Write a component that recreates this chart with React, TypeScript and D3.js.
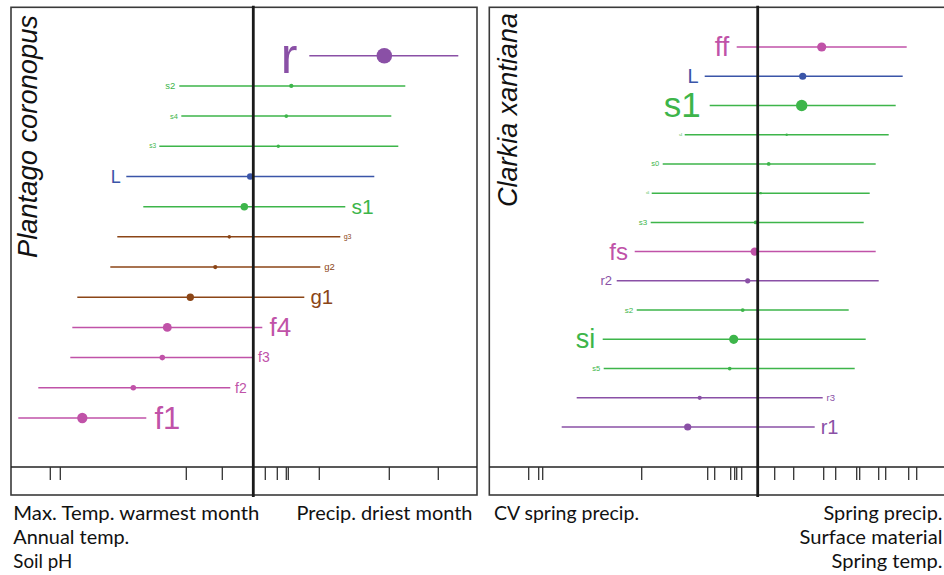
import React from 'react';
import * as d3 from 'd3';

// Plantago coronopus panel: effect estimate with lower / upper interval
const plantagoLabels = ['r', 's2', 's4', 's3', 'L', 's1', 'g3', 'g2', 'g1', 'f4', 'f3', 'f2', 'f1'];
const plantagoLow = [0.56, -0.74, -0.72, -0.94, -1.27, -1.1, -1.36, -1.43, -1.76, -1.81, -1.83, -2.15, -2.35];
const plantagoEst = [1.31, 0.38, 0.33, 0.25, -0.03, -0.09, -0.24, -0.38, -0.63, -0.86, -0.91, -1.2, -1.71];
const plantagoHigh = [2.05, 1.52, 1.38, 1.45, 1.21, 0.92, 0.87, 0.67, 0.51, 0.09, 0.0, -0.23, -1.07];
const plantagoWeight = [1.0, 0.19, 0.15, 0.13, 0.36, 0.42, 0.14, 0.19, 0.41, 0.52, 0.28, 0.28, 0.62];
const plantagoSide = ['left', 'left', 'left', 'left', 'left', 'right', 'right', 'right', 'right', 'right', 'right', 'right', 'right'];
const plantagoRug = [-2.03, -1.93, -0.67, -0.31, 0.12, 0.24, 0.33, 0.35, 0.66, 1.36, 1.85];

// Clarkia xantiana panel
const clarkiaLabels = ['ff', 'L', 's1', 's4', 's0', 's6', 's3', 'fs', 'r2', 's2', 'si', 's5', 'r3', 'r1'];
const clarkiaLow = [-0.21, -0.53, -0.48, -0.73, -0.95, -1.06, -1.07, -1.23, -1.41, -1.21, -1.55, -1.54, -1.81, -1.96];
const clarkiaEst = [0.64, 0.45, 0.44, 0.29, 0.11, 0.03, -0.02, -0.03, -0.1, -0.15, -0.24, -0.28, -0.58, -0.7];
const clarkiaHigh = [1.49, 1.45, 1.38, 1.31, 1.18, 1.12, 1.06, 1.18, 1.21, 0.91, 1.08, 0.97, 0.65, 0.57];
const clarkiaWeight = [0.54, 0.4, 0.7, 0.06, 0.15, 0.06, 0.16, 0.48, 0.26, 0.16, 0.54, 0.15, 0.19, 0.4];
const clarkiaSide = ['left', 'left', 'left', 'left', 'left', 'left', 'left', 'left', 'left', 'left', 'left', 'left', 'right', 'right'];
const clarkiaRug = [-2.29, -2.19, -2.15, -1.16, -0.5, -0.43, -0.27, -0.23, -0.21, -0.16, 0.17, 0.36, 0.66, 0.78, 0.99, 1.02, 1.21, 1.28, 1.51, 1.59];

const plantagoLeftAxis = ['Max. Temp. warmest month', 'Annual temp.', 'Soil pH'];
const plantagoRightAxis = ['Precip. driest month'];
const clarkiaLeftAxis = ['CV spring precip.'];
const clarkiaRightAxis = ['Spring precip.', 'Surface material', 'Spring temp.'];

const groupColor: Record<string, string> = {
  r: '#8a50a6',
  s: '#3db54a',
  L: '#3a55a8',
  g: '#8b4516',
  f: '#c052a8',
};

const radius = d3.scaleLinear().domain([0, 1]).range([0.8, 7.8]);
const fontSize = d3.scaleLinear().domain([0, 1]).range([0, 50]);

interface PanelProps {
  title: string;
  labels: string[];
  low: number[];
  est: number[];
  high: number[];
  weight: number[];
  side: string[];
  rug: number[];
  domain: [number, number];
  x0: number;
  x1: number;
  rowTop: number;
  rowBottom: number;
  titleX: number;
  titleY: number;
  titleLen: number;
}

const Panel: React.FC<PanelProps> = (p) => {
  const top = 7.3;
  const bottom = 495;
  const rugTop = 467;
  const x = d3.scaleLinear().domain(p.domain).range([p.x0, p.x1]);
  const y = d3.scalePoint<string>().domain(p.labels).range([p.rowTop, p.rowBottom]);

  return (
    <g>
      <rect x={p.x0} y={top} width={p.x1 - p.x0} height={bottom - top}
        fill="none" stroke="#3a3a3a" strokeWidth={1.6} />
      <line x1={p.x0} x2={p.x1} y1={rugTop} y2={rugTop} stroke="#222" strokeWidth={1.6} />
      {p.rug.map((v, i) => (
        <line key={i} x1={x(v)} x2={x(v)} y1={rugTop} y2={rugTop + 13} stroke="#333" strokeWidth={1.3} />
      ))}
      <text x={p.titleX} y={p.titleY} transform={`rotate(-90 ${p.titleX} ${p.titleY})`}
        fontFamily="'Liberation Sans', Arial, sans-serif" fontStyle="italic" fontSize={27.4} fill="#111"
        textLength={p.titleLen} lengthAdjust="spacingAndGlyphs">
        {p.title}
      </text>
      {p.labels.map((lab, i) => {
        const color = groupColor[lab[0]];
        const cy = y(lab) as number;
        const fs = fontSize(p.weight[i]);
        const gap = 2 + 0.2 * fs;
        const left = p.side[i] === 'left';
        return (
          <g key={lab + i}>
            <line x1={x(p.low[i])} x2={x(p.high[i])} y1={cy} y2={cy} stroke={color} strokeWidth={1.5} />
            <circle cx={x(p.est[i])} cy={cy} r={radius(p.weight[i])} fill={color} />
            <text x={left ? x(p.low[i]) - gap : x(p.high[i]) + gap} y={cy + 0.34 * fs}
              textAnchor={left ? 'end' : 'start'} fontSize={fs}
              fontFamily="'Liberation Sans', Arial, sans-serif" fill={color}>
              {lab}
            </text>
          </g>
        );
      })}
      <line x1={x(0)} x2={x(0)} y1={top - 1.5} y2={bottom + 2} stroke="#1a1a1a" strokeWidth={2.8} />
    </g>
  );
};

const axisFont = "Lato, 'Open Sans', sans-serif";

const App: React.FC = () => {
  const leftLens = [246, 116, 59];
  const clarkiaRightLens = [119, 143, 111];
  return (
    <svg width={944} height={575} viewBox="0 0 944 575"
      style={{ position: 'absolute', left: 0, top: 0, background: '#fff' }}>
      <Panel title="Plantago coronopus" labels={plantagoLabels} low={plantagoLow} est={plantagoEst}
        high={plantagoHigh} weight={plantagoWeight} side={plantagoSide} rug={plantagoRug}
        domain={[-2.423, 2.237]} x0={11} x1={477} rowTop={55.7} rowBottom={418}
        titleX={37} titleY={258} titleLen={243} />
      <Panel title="Clarkia xantiana" labels={clarkiaLabels} low={clarkiaLow} est={clarkiaEst}
        high={clarkiaHigh} weight={clarkiaWeight} side={clarkiaSide} rug={clarkiaRug}
        domain={[-2.684, 2.023]} x0={489.3} x1={960} rowTop={47} rowBottom={427}
        titleX={517} titleY={207} titleLen={194} />
      <g fontFamily={axisFont} fontSize={20} fill="#111">
        {plantagoLeftAxis.map((t, i) => (
          <text key={t} x={13.3} y={520 + i * 24} textLength={leftLens[i]} lengthAdjust="spacingAndGlyphs">{t}</text>
        ))}
        {plantagoRightAxis.map((t, i) => (
          <text key={t} x={296.5} y={520 + i * 24} textLength={176} lengthAdjust="spacingAndGlyphs">{t}</text>
        ))}
        {clarkiaLeftAxis.map((t, i) => (
          <text key={t} x={494} y={520 + i * 24} textLength={145} lengthAdjust="spacingAndGlyphs">{t}</text>
        ))}
        {clarkiaRightAxis.map((t, i) => (
          <text key={t} x={942.5 - clarkiaRightLens[i]} y={520 + i * 24} textLength={clarkiaRightLens[i]}
            lengthAdjust="spacingAndGlyphs">{t}</text>
        ))}
      </g>
    </svg>
  );
};

export default App;
